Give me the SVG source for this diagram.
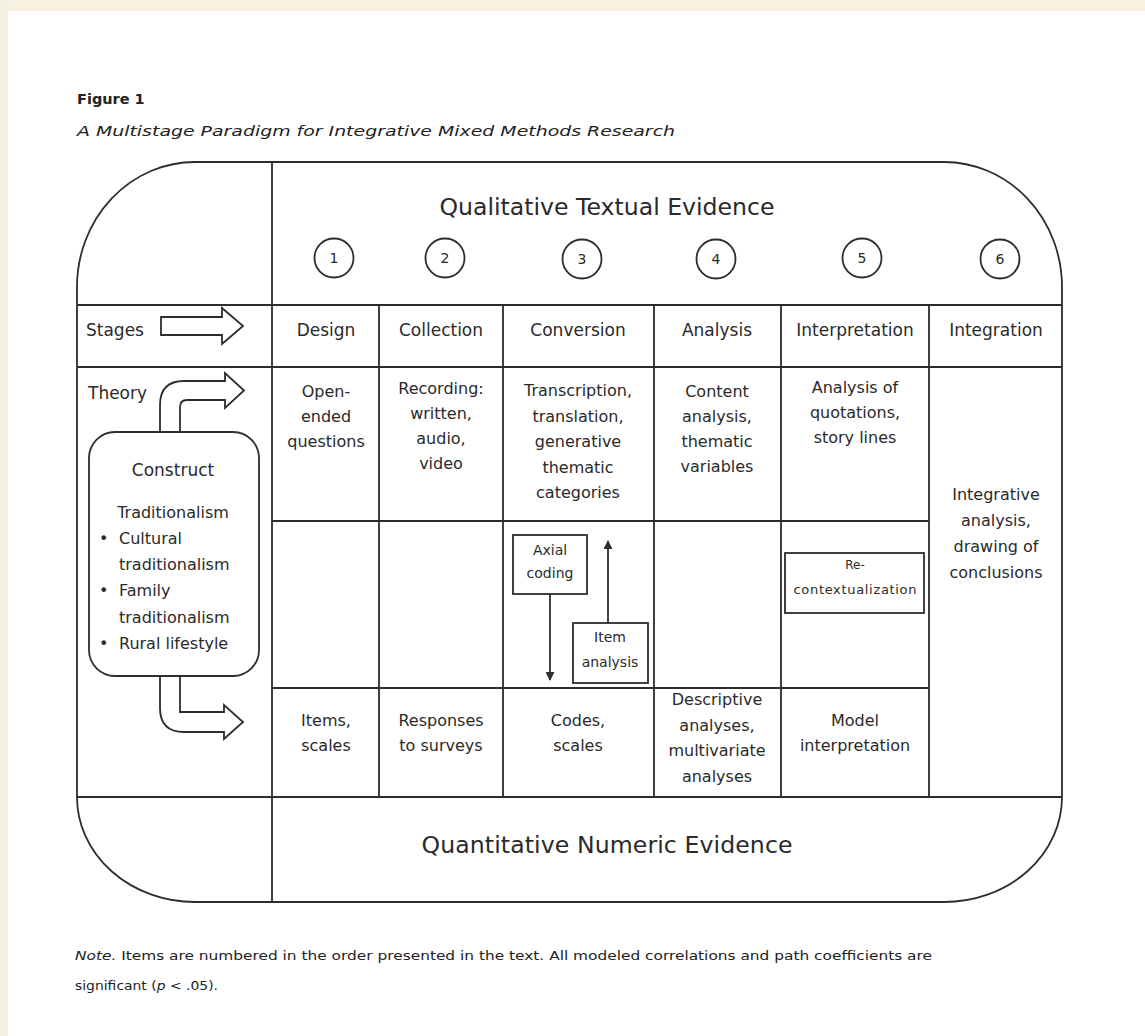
<svg xmlns="http://www.w3.org/2000/svg" width="1145" height="1036" viewBox="0 0 1145 1036">
<style>
.ln{stroke:#2d2d2d;stroke-width:1.8;fill:none}
.bx{stroke:#2d2d2d;stroke-width:1.8;fill:#fff}
.t{font-family:"DejaVu Sans",sans-serif;fill:#2a2a2a;text-anchor:middle}
.c{font-size:16px}
.h{font-size:17px}
.big{font-size:23.6px}
.sm{font-size:14px}
.num{font-size:14px}
.l{text-anchor:start}
.ttl{font-family:"DejaVu Sans",sans-serif;fill:#222}
</style>
<defs>
<marker id="ah" viewBox="0 0 10 10" refX="9" refY="5" markerWidth="9" markerHeight="9" markerUnits="userSpaceOnUse" orient="auto">
<path d="M0,0 L10,5 L0,10 Z" fill="#2d2d2d"/>
</marker>
</defs>
<rect x="0" y="0" width="1145" height="1036" fill="#fff"/>
<rect x="0" y="0" width="1145" height="11" fill="#f7f1df"/>
<rect x="0" y="0" width="8" height="1036" fill="#f4f1e3"/>

<g id="title">
<text class="ttl" x="77" y="104" font-size="14.5" font-weight="bold">Figure 1</text>
<text class="ttl" x="77" y="136" font-size="14.5" font-style="italic" textLength="598" lengthAdjust="spacingAndGlyphs">A Multistage Paradigm for Integrative Mixed Methods Research</text>
</g>

<g id="frame">
<path class="ln" d="M195 162 H944 A118 125 0 0 1 1062 287 V797 A118 105 0 0 1 944 902 H195 A118 105 0 0 1 77 797 V287 A118 125 0 0 1 195 162 Z"/>
<path class="ln" d="M272 162 V902 M77 305 H1062 M77 367 H1062 M77 797 H1062 M272 521 H929 M272 688 H929 M379 305 V797 M503 305 V797 M654 305 V797 M781 305 V797 M929 305 V797"/>
</g>

<g id="qual-header">
<text class="t big" x="607" y="215">Qualitative Textual Evidence</text>
</g>
<g id="quant-footer">
<text class="t big" x="607" y="853" textLength="371">Quantitative Numeric Evidence</text>
</g>

<g id="stage-numbers">
<g id="n1"><circle class="bx" cx="334" cy="258" r="19.5"/><text class="t num" x="334" y="263">1</text></g>
<g id="n2"><circle class="bx" cx="445" cy="258" r="19.5"/><text class="t num" x="445" y="263">2</text></g>
<g id="n3"><circle class="bx" cx="582" cy="259" r="19.5"/><text class="t num" x="582" y="264">3</text></g>
<g id="n4"><circle class="bx" cx="716" cy="259" r="19.5"/><text class="t num" x="716" y="264">4</text></g>
<g id="n5"><circle class="bx" cx="862" cy="258" r="19.5"/><text class="t num" x="862" y="263">5</text></g>
<g id="n6"><circle class="bx" cx="1000" cy="259" r="19.5"/><text class="t num" x="1000" y="264">6</text></g>
</g>

<g id="stages-row">
<text class="t h l" x="86" y="336">Stages</text>
<path id="stages-arrow" class="bx" d="M161 317 H222 V308 L243 326 L222 344 V335 H161 Z"/>
<text class="t h" x="326" y="336">Design</text>
<text class="t h" x="441" y="336">Collection</text>
<text class="t h" x="578" y="336">Conversion</text>
<text class="t h" x="717" y="336">Analysis</text>
<text class="t h" x="855" y="336">Interpretation</text>
<text class="t h" x="996" y="336">Integration</text>
</g>

<g id="theory">
<text class="t h l" x="88" y="399">Theory</text>
<path id="theory-arrow" class="bx" d="M160 440 V405 Q160 381 184 381 H225 V373 L244 390.5 L225 408 V400 H187 Q180 400 180 407 V440"/>
<path id="output-arrow" class="bx" d="M160 668 V708 Q160 732 184 732 H224 V739 L243 722 L224 705 V712 H180 V668"/>
</g>

<g id="construct">
<rect class="bx" x="89" y="432" width="170" height="244" rx="26"/>
<text class="t" x="173" y="476" font-size="17">Construct</text>
<text class="t c" x="173" y="518">Traditionalism</text>
<text class="t c l" x="99" y="544">•</text><text class="t c l" x="119" y="544">Cultural</text>
<text class="t c l" x="119" y="570">traditionalism</text>
<text class="t c l" x="99" y="596">•</text><text class="t c l" x="119" y="596">Family</text>
<text class="t c l" x="119" y="623">traditionalism</text>
<text class="t c l" x="99" y="649">•</text><text class="t c l" x="119" y="649">Rural lifestyle</text>
</g>

<g id="design-qual"><text class="t c" x="326" y="397">Open-</text><text class="t c" x="326" y="422">ended</text><text class="t c" x="326" y="447">questions</text></g>
<g id="collection-qual"><text class="t c" x="441" y="394">Recording:</text><text class="t c" x="441" y="419">written,</text><text class="t c" x="441" y="444">audio,</text><text class="t c" x="441" y="469">video</text></g>
<g id="conversion-qual"><text class="t c" x="578" y="396">Transcription,</text><text class="t c" x="578" y="421.5">translation,</text><text class="t c" x="578" y="447">generative</text><text class="t c" x="578" y="472.5">thematic</text><text class="t c" x="578" y="498">categories</text></g>
<g id="analysis-qual"><text class="t c" x="717" y="397">Content</text><text class="t c" x="717" y="422">analysis,</text><text class="t c" x="717" y="447">thematic</text><text class="t c" x="717" y="472">variables</text></g>
<g id="interpretation-qual"><text class="t c" x="855" y="393">Analysis of</text><text class="t c" x="855" y="418">quotations,</text><text class="t c" x="855" y="443">story lines</text></g>
<g id="integration"><text class="t c" x="996" y="500">Integrative</text><text class="t c" x="996" y="526">analysis,</text><text class="t c" x="996" y="552">drawing of</text><text class="t c" x="996" y="578">conclusions</text></g>

<g id="axial-coding"><rect class="bx" x="513" y="535" width="74" height="59"/><text class="t sm" x="550" y="555">Axial</text><text class="t sm" x="550" y="578">coding</text></g>
<g id="item-analysis"><rect class="bx" x="573" y="623" width="75" height="60"/><text class="t sm" x="610" y="642">Item</text><text class="t sm" x="610" y="667">analysis</text></g>
<g id="recontextualization"><rect class="bx" x="785" y="553" width="139" height="60"/><text class="t" x="855" y="569" font-size="12">Re-</text><text class="t" x="855" y="594" font-size="13" textLength="123">contextualization</text></g>

<g id="design-quant"><text class="t c" x="326" y="726">Items,</text><text class="t c" x="326" y="751">scales</text></g>
<g id="collection-quant"><text class="t c" x="441" y="726">Responses</text><text class="t c" x="441" y="751">to surveys</text></g>
<g id="conversion-quant"><text class="t c" x="578" y="726">Codes,</text><text class="t c" x="578" y="751">scales</text></g>
<g id="analysis-quant"><text class="t c" x="717" y="705">Descriptive</text><text class="t c" x="717" y="730.5">analyses,</text><text class="t c" x="717" y="756">multivariate</text><text class="t c" x="717" y="781.5">analyses</text></g>
<g id="interpretation-quant"><text class="t c" x="855" y="726">Model</text><text class="t c" x="855" y="751">interpretation</text></g>

<g id="connectors">
<line class="ln" x1="550" y1="594" x2="550" y2="680" marker-end="url(#ah)"/>
<line class="ln" x1="608" y1="623" x2="608" y2="541" marker-end="url(#ah)"/>
</g>

<g id="note">
<text class="ttl" x="75" y="960" font-size="12.5" textLength="857" lengthAdjust="spacingAndGlyphs"><tspan font-style="italic">Note.</tspan> Items are numbered in the order presented in the text. All modeled correlations and path coefficients are</text>
<text class="ttl" x="75" y="990" font-size="12.5" textLength="143" lengthAdjust="spacingAndGlyphs">significant (<tspan font-style="italic">p</tspan> &lt; .05).</text>
</g>
</svg>
